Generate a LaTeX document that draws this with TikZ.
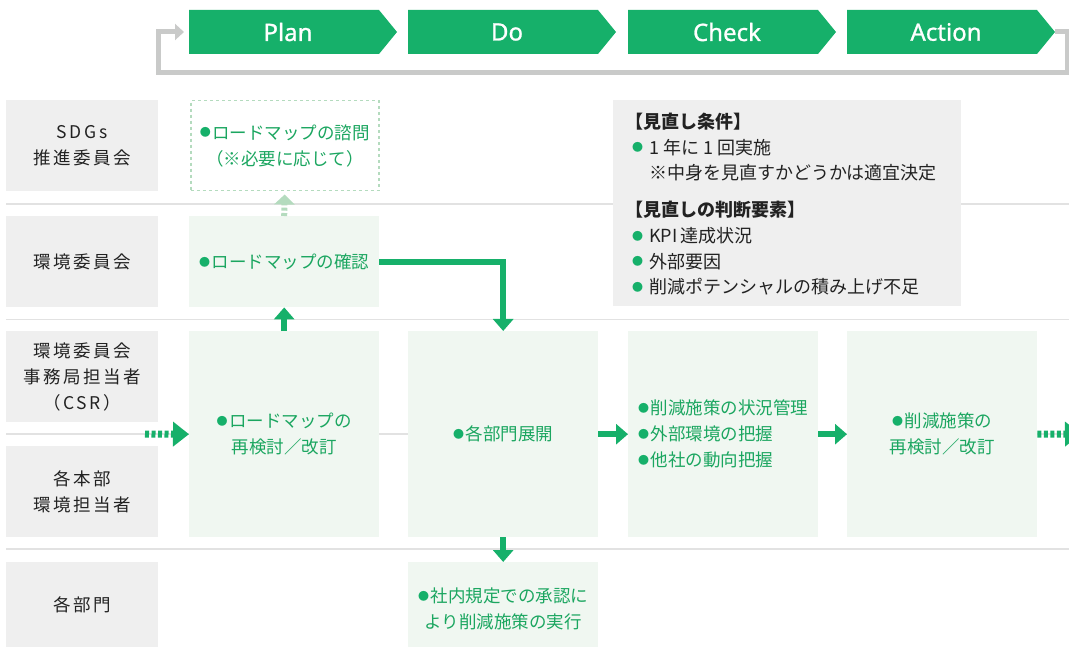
\documentclass[tikz,border=0pt]{standalone}
\usepackage{fontspec}
\setmainfont{Noto Sans CJK JP}
\newfontfamily\labelfont{Noto Sans CJK JP}[LetterSpace=15]
\newfontfamily\bannerfont{Noto Sans}[FakeBold=1]
\usepackage{xcolor}
\usetikzlibrary{arrows.meta,positioning,calc}
\definecolor{pdcagreen}{RGB}{22, 176, 106}
\definecolor{textgreen}{RGB}{27, 166, 96}
\definecolor{lightfill}{RGB}{240, 247, 241}
\definecolor{labelgray}{RGB}{239, 239, 239}
\definecolor{labeltext}{RGB}{34, 34, 34}
\definecolor{rulegray}{RGB}{226, 226, 226}
\definecolor{loopgray}{RGB}{201, 202, 201}
\definecolor{palegreen}{RGB}{180, 219, 190}
\newcommand{\gdot}{\raisebox{2.3pt}{\textcolor{pdcagreen}{\fontsize{11}{11}\selectfont ●}}\hspace{1.5pt}}
\newcommand{\rdot}{\gdot\hspace{4.5pt}}

\begin{document}
\begin{tikzpicture}[x=1pt, y=-1pt,
    phase/.style={text=white, font=\bannerfont\fontsize{24}{24}\selectfont, inner sep=0},
    rowlabel/.style={fill=labelgray, minimum width=152, minimum height=91, anchor=north west, inner sep=0, align=center, text=labeltext, font=\labelfont\fontsize{17.5}{26}\selectfont},
    stepbox/.style={fill=lightfill, minimum width=190, minimum height=206, anchor=north west, inner sep=0, align=center, text=textgreen, font=\fontsize{17.5}{26}\selectfont},
    sepline/.style={draw=rulegray, line width=1.5pt},
    flow/.style={draw=pdcagreen, line width=6pt, -{Triangle[width=20pt,length=12pt]}},
    dotflow/.style={draw=pdcagreen, line width=7pt, dash pattern=on 4pt off 2.5pt, -{Triangle[width=24pt,length=16pt]}},
    paleflow/.style={draw=palegreen, line width=6pt, dash pattern=on 3pt off 2.3pt, -{Triangle[width=20pt,length=10pt]}, shorten >=3pt},
    feedback/.style={draw=loopgray, line width=5pt, -{Triangle[width=16pt,length=9pt]}}]
    \useasboundingbox (0,0) rectangle (1069,647);

    % PDCA banner
    \foreach \name/\x in {Plan/189, Do/408, Check/628, Action/847} {
        \fill[pdcagreen] (\x,10) -- ++(190,0) -- ++(18,22) -- ++(-18,22) -- ++(-190,0) -- cycle;
        \node[phase] (\name) at (\x+99,32) {\name};
        \coordinate (\name-tip) at (\x+208,32);
    }
    \coordinate (loopend) at (184,32);
    \draw[feedback] (Action-tip) -- ++(12,0) -- ++(0,40.5) -| (158,32) -- (loopend);

    % row separators
    \foreach \y in {204, 319.5, 434, 549}
        \draw[sepline] (6,\y) -- (1069,\y);

    % row labels
    \node[rowlabel] (sdgs) at (6,100) {SDGs\\推進委員会};
    \node[rowlabel] (envcom) at (6,216) {環境委員会};
    \node[rowlabel] (csr) at (6,331) {環境委員会\\事務局担当者\\（CSR）};
    \node[rowlabel] (hq) at (6,446) {各本部\\環境担当者};
    \node[rowlabel, minimum height=85] (dept) at (6,562) {各部門};

    % steps
    \node[stepbox, fill=white, draw=palegreen, line width=1.5pt, dash pattern=on 3pt off 3pt, minimum width=188, minimum height=90] (consult) at (190,100) {\gdot ロードマップの諮問\\（※必要に応じて）};
    \node[stepbox, minimum height=91] (confirm) at (189,216) {\gdot ロードマップの確認};
    \node[stepbox] (revise) at (189,331) {\gdot ロードマップの\\再検討／改訂};
    \node[stepbox] (deploy) at (408,331) {\gdot 各部門展開};
    \node[stepbox, align=left] (monitor) at (628,331) {\gdot 削減施策の状況管理\\\gdot 外部環境の把握\\\gdot 他社の動向把握};
    \node[stepbox] (rethink) at (847,331) {\gdot 削減施策の\\再検討／改訂};
    \node[stepbox, minimum height=85] (execute) at (408,562) {\rule{0pt}{23pt}\gdot 社内規定での承認に\\より削減施策の実行};

    % review conditions
    \node[fill=labelgray, minimum width=348, minimum height=206, anchor=north west, inner sep=0] (review) at (613,100) {};
    \node[anchor=north west, inner sep=0, align=left, text=labeltext, font=\fontsize{18}{25.6}\selectfont] (reviewtext) at (632,113) {%
        \hspace*{-7pt}\textbf{【見直し条件】}\\
        \rdot 1\hspace{4pt}年に\hspace{4pt}1\hspace{4pt}回実施\\
        \phantom{\rdot}※中身を見直すかどうかは適宜決定\\[11.5pt]
        \hspace*{-7pt}\textbf{【見直しの判断要素】}\\
        \rdot KPI\hspace{3pt}達成状況\\
        \rdot 外部要因\\
        \rdot 削減ポテンシャルの積み上げ不足};

    % connectors
    \coordinate (inflow) at (145,434);
    \coordinate (outflow) at (1081,434);
    \draw[paleflow] (confirm.north) -- (consult.south);
    \draw[flow] (revise.north) -- (confirm.south);
    \draw[flow] (confirm.east) -| (deploy.north);
    \draw[flow] (deploy.south) -- (execute.north);
    \draw[flow] (deploy.east) -- (monitor.west);
    \draw[flow] (monitor.east) -- (rethink.west);
    \draw[dotflow] (inflow) -- (revise.west);
    \draw[dotflow] (rethink.east) -- (outflow);
\end{tikzpicture}
\end{document}
